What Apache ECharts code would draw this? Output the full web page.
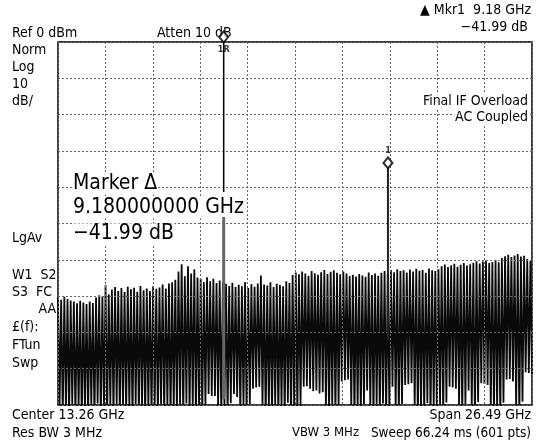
<!DOCTYPE html>
<html>
<head>
<meta charset="utf-8">
<script src="https://cdn.jsdelivr.net/npm/echarts@6/dist/echarts.min.js"></script>
<style>
  html, body { margin: 0; padding: 0; background: #fff; }
  #chart { width: 545px; height: 448px; }
</style>
</head>
<body>
<div id="chart"></div>
<script>
// span of the sweep, x axis is offset from the start frequency (GHz)
const spanGHz = 26.49
const refLevel = 0
const bottomLevel = -100

// trace peaks (dBm), left to right
const peaks = [
  -70.5, -71, -70.2, -70.8, -71.2,
  -71.5, -72, -71.3, -71.8, -72.2, -71.5, -71.9,
  -70.4, -69.8, -70.1, -67, -69.5,
  -68.2, -67.5, -68.6, -67.8, -68.9, -67.4, -68.1, -67.7, -68.8, -67.2,
  -68.4, -67.9, -68.6, -67.3, -68.0, -67.6, -66.8, -67.9, -66.5, -66.2,
  -65.5, -63.2, -61.2, -64.5, -61.8, -63.8, -62.6, -64.9,
  -65.3, -66.1, -64.8, -65.9, -65.2, -66.4, -65.7,
  -66,
  -66.6, -67.2, -66.3, -67.5, -66.9, -67.3, -66.1, -67.8, -66.7, -67.4,
  -66.5, -64.3, -66.8, -67.1, -66.2, -67.5, -66.6, -66.9, -67.3, -65.9, -66.4,
  -64.2, -63.5, -64.0, -63.2, -63.8, -64.4, -63.1, -63.7, -64.1, -63.4, -62.8, -63.9, -63.3,
  -62.9, -63.6, -64.0, -63.2, -63.8, -64.5, -64.1, -64.6, -63.9, -64.3,
  -64.7, -63.5, -64.2, -63.8, -64.4, -63.6, -63.1, -63.9,
  -62.8, -63.4, -62.6, -63.1, -62.9, -63.5, -62.7, -63.2,
  -62.5, -63.0, -62.8, -63.6, -62.4, -62.9, -63.1, -62.6,
  -61.8, -61.3, -62.0, -61.5, -61.1, -61.9, -61.4, -60.9, -61.6, -61.2,
  -60.8, -60.4, -61.0, -60.5, -60.2, -60.9, -60.6, -60.1, -60.7,
  -59.5, -59.0, -58.6, -59.2, -58.8, -58.4, -59.1, -58.9,
  -59.8, -60.3
]

// trace valleys (dBm) between the peaks
const troughs = [
  -100.5, -103, -101.2, -104, -99.8, -103, -100.9, -104, -101.5, -103,
  -100.2, -104, -99.6, -103, -101.0, -104, -100.4, -103, -99.9, -104,
  -100.7, -103, -101.3, -104, -99.7, -103, -100.6, -104, -101.1, -103,
  -100.3, -104, -99.8, -103, -100.9, -104, -101.4, -103, -100.1, -104,
  -99.6, -103, -100.8, -104, -101.2, -103, -100.0, -97, -97.5, -97.5,
  -100.4, -103, -101.0, -103, -99.5, -97, -97.8, -103, -100.6, -104,
  -99.7, -95.5, -95.2, -95, -100.3, -104, -101.1, -103, -100.0, -104,
  -100.8, -103, -99.4, -104, -101.0, -103, -100.2, -95, -94.8, -95.5,
  -96.2, -96, -96.8, -96.5, -100.7, -104, -99.9, -103, -100.5, -93.5,
  -93.2, -93, -100.6, -104, -101.2, -103, -99.8, -96, -100.9, -104,
  -100.2, -103, -99.6, -104, -100.8, -95, -101.0, -103, -99.7, -94.5,
  -94.3, -94, -100.4, -104, -101.1, -103, -99.5, -104, -100.6, -103,
  -100.0, -103, -99.3, -95, -95.2, -95.5, -100.7, -103, -99.8, -96,
  -100.9, -104, -99.2, -94, -94.2, -94.5, -100.5, -103, -101.0, -104,
  -99.4, -93, -92.8, -93.5, -100.6, -104, -99.1, -91, -91.2, -91.5
]

// markers: reference (1R) and marker 1
const markerFreq = [9.26, 18.44]
const markerLevel = [1.4, -33.3]
const markerNames = ['1R', '1']
const markerRLine = [0, -41.3]
const markerRSignal = [-48.2, -98.5]
const marker1Line = [-34.5, -82]

const trace = []
const nPts = peaks.length * 2
for (let i = 0; i < peaks.length; i++) {
  trace.push([(2 * i) * spanGHz / (nPts - 1), peaks[i]])
  trace.push([(2 * i + 1) * spanGHz / (nPts - 1), troughs[i]])
}

const FONT = '"DejaVu Sans Condensed", "DejaVu Sans", sans-serif'

function txt(text, x, y, opts = {}) {
  const align = opts.align || 'left'
  return {
    type: 'text',
    z: 4,
    style: {
      text: text,
      x: x,
      y: y,
      font: (opts.size || 14) + 'px ' + FONT,
      fill: '#000',
      align: align,
      textAlign: align,
      verticalAlign: 'middle',
      textVerticalAlign: 'middle',
      backgroundColor: opts.bg ? '#fff' : null,
      padding: opts.bg ? [0, 1, 0, 1] : 0
    }
  }
}

const chart = echarts.init(document.getElementById('chart'))

chart.setOption({
  animation: false,
  backgroundColor: '#fff',
  grid: {
    left: 58,
    right: 13,
    top: 42,
    bottom: 43,
    show: true,
    borderColor: '#000',
    borderWidth: 1.5
  },
  xAxis: {
    type: 'value',
    min: 0,
    max: spanGHz,
    interval: spanGHz / 10,
    z: 3,
    axisLine: { show: false },
    axisTick: { show: false },
    axisLabel: { show: false },
    splitLine: {
      show: true,
      lineStyle: { color: '#666', width: 1, type: [2, 2] }
    }
  },
  yAxis: {
    type: 'value',
    min: bottomLevel,
    max: refLevel,
    interval: 10,
    z: 3,
    axisLine: { show: false },
    axisTick: { show: false },
    axisLabel: { show: false },
    splitLine: {
      show: true,
      lineStyle: { color: '#666', width: 1, type: [2, 2] }
    }
  },
  graphic: [
    txt('Ref 0 dBm', 12, 33),
    txt('Atten 10 dB', 157, 33),
    txt('\u25B2 Mkr1  9.18 GHz', 531, 10, { align: 'right' }),
    txt('\u221241.99 dB', 528, 27, { align: 'right' }),
    txt('Norm', 12, 50),
    txt('Log', 12, 67),
    txt('10', 12, 84),
    txt('dB/', 12, 101),
    txt('Final IF Overload', 529, 101, { align: 'right', bg: true }),
    txt('AC Coupled', 529, 117, { align: 'right', bg: true }),
    txt('Marker \u0394', 72, 184, { size: 21, bg: true }),
    txt('9.180000000 GHz', 72, 208, { size: 21, bg: true }),
    txt('\u221241.99 dB', 72, 234, { size: 21, bg: true }),
    txt('LgAv', 12, 238),
    txt('W1  S2', 12, 275),
    txt('S3  FC', 12, 292),
    txt('AA', 56, 309, { align: 'right' }),
    txt('\u00A3(f):', 12, 327),
    txt('FTun', 12, 345),
    txt('Swp', 12, 363),
    txt('Center 13.26 GHz', 12, 415),
    txt('Res BW 3 MHz', 12, 433),
    txt('Span 26.49 GHz', 531, 415, { align: 'right' }),
    txt('VBW 3 MHz', 292, 433, { size: 13 }),
    txt('Sweep 66.24 ms (601 pts)', 531, 433, { align: 'right', size: 13.5 })
  ],
  series: [
    {
      type: 'line',
      data: trace,
      showSymbol: false,
      z: 2,
      lineStyle: { color: '#0a0a0a', width: 1.8 }
    },
    {
      type: 'line',
      data: markerRLine.map(v => [markerFreq[0], v]),
      showSymbol: false,
      z: 5,
      lineStyle: { color: '#000', width: 1.5 }
    },
    {
      type: 'line',
      data: markerRSignal.map(v => [markerFreq[0], v]),
      showSymbol: false,
      z: 5,
      lineStyle: { color: '#666', width: 3 }
    },
    {
      type: 'line',
      data: marker1Line.map(v => [markerFreq[1], v]),
      showSymbol: false,
      z: 5,
      lineStyle: { color: '#222', width: 2 }
    },
    {
      type: 'scatter',
      clip: false,
      z: 6,
      symbol: 'diamond',
      symbolSize: [9, 11],
      itemStyle: { color: '#fff', borderColor: '#000', borderWidth: 2 },
      data: markerFreq.map((f, i) => ({
        value: [f, markerLevel[i]],
        label: {
          show: true,
          position: i === 0 ? 'bottom' : 'top',
          distance: i === 0 ? 2 : 1,
          formatter: markerNames[i],
          fontFamily: FONT,
          fontSize: 9,
          fontWeight: 'bold',
          color: '#000'
        }
      }))
    }
  ]
})
</script>
</body>
</html>
